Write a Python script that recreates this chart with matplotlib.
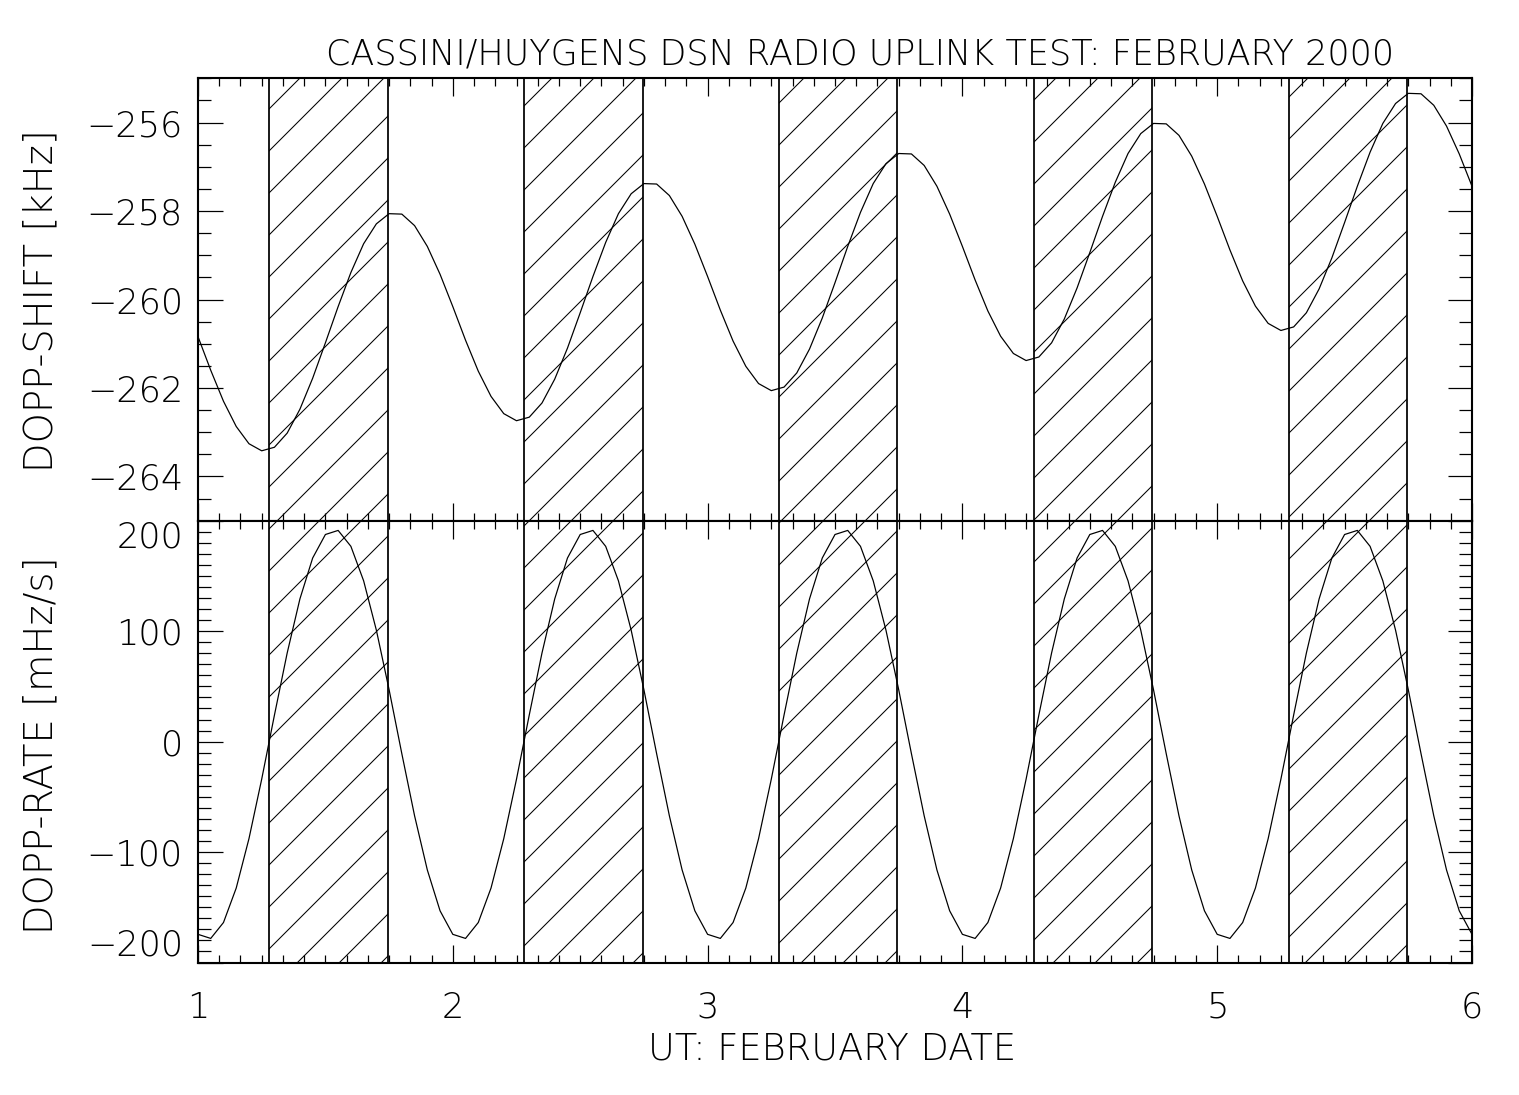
import matplotlib
matplotlib.use("Agg")
import matplotlib.pyplot as plt
import numpy as np
from matplotlib.ticker import MultipleLocator

# ---------------- data ----------------
t_first, t_last, n_samples = 1.0, 6.0, 101
ut_days = np.linspace(t_first, t_last, n_samples)

dopp_shift_khz = [
    -260.84, -261.60, -262.30, -262.87, -263.26, -263.42, -263.34, -263.02, -262.48, -261.78,
    -260.98, -260.16, -259.39, -258.74, -258.29, -258.06, -258.07, -258.33, -258.80, -259.43,
    -260.16, -260.92, -261.62, -262.19, -262.58, -262.74, -262.66, -262.34, -261.80, -261.10,
    -260.30, -259.48, -258.71, -258.06, -257.61, -257.38, -257.39, -257.65, -258.12, -258.75,
    -259.48, -260.24, -260.94, -261.51, -261.90, -262.06, -261.98, -261.66, -261.12, -260.42,
    -259.62, -258.80, -258.03, -257.38, -256.93, -256.70, -256.71, -256.97, -257.44, -258.07,
    -258.80, -259.56, -260.26, -260.83, -261.22, -261.38, -261.30, -260.98, -260.44, -259.74,
    -258.94, -258.12, -257.35, -256.70, -256.25, -256.02, -256.03, -256.29, -256.76, -257.39,
    -258.12, -258.88, -259.58, -260.15, -260.54, -260.70, -260.62, -260.30, -259.76, -259.06,
    -258.26, -257.44, -256.67, -256.02, -255.57, -255.34, -255.35, -255.61, -256.08, -256.71,
    -257.44,
]

dopp_rate_mhz_s = [
    -174.5, -178.2, -163.8, -132.6, -87.9, -34.0, 24.0, 80.2, 129.2, 166.2,
    187.5, 191.2, 176.8, 145.6, 100.9, 47.0, -11.0, -67.2, -116.2, -153.2,
    -174.5, -178.2, -163.8, -132.6, -87.9, -34.0, 24.0, 80.2, 129.2, 166.2,
    187.5, 191.2, 176.8, 145.6, 100.9, 47.0, -11.0, -67.2, -116.2, -153.2,
    -174.5, -178.2, -163.8, -132.6, -87.9, -34.0, 24.0, 80.2, 129.2, 166.2,
    187.5, 191.2, 176.8, 145.6, 100.9, 47.0, -11.0, -67.2, -116.2, -153.2,
    -174.5, -178.2, -163.8, -132.6, -87.9, -34.0, 24.0, 80.2, 129.2, 166.2,
    187.5, 191.2, 176.8, 145.6, 100.9, 47.0, -11.0, -67.2, -116.2, -153.2,
    -174.5, -178.2, -163.8, -132.6, -87.9, -34.0, 24.0, 80.2, 129.2, 166.2,
    187.5, 191.2, 176.8, 145.6, 100.9, 47.0, -11.0, -67.2, -116.2, -153.2,
    -174.5,
]

view_start = [1.28, 2.28, 3.28, 4.28, 5.28]
view_end = [1.745, 2.745, 3.745, 4.745, 5.745]

x_ticks = [1, 2, 3, 4, 5, 6]
x_tick_labels = ["1", "2", "3", "4", "5", "6"]
shift_ticks = [-264, -262, -260, -258, -256]
rate_ticks = [-200, -100, 0, 100, 200]

title_text = "CASSINI/HUYGENS DSN RADIO UPLINK TEST: FEBRUARY 2000"
shift_label = "DOPP-SHIFT [kHz]"
rate_label = "DOPP-RATE [mHz/s]"
x_label = "UT: FEBRUARY DATE"

# ---------------- style ----------------
plt.rcParams["font.family"] = ["DejaVu Sans"]
plt.rcParams["font.weight"] = "light"
plt.rcParams["hatch.linewidth"] = 0.3
plt.rcParams["axes.linewidth"] = 0.6

DPI = 252
W_PX, H_PX = 1519, 1095
fig = plt.figure(figsize=(W_PX / DPI, H_PX / DPI), dpi=DPI)
fig.patch.set_facecolor("white")

left = 198 / W_PX
width = (1472 - 198) / W_PX
top1, bot1 = 78.3, 520.7
top2, bot2 = 520.7, 962.5
ax1 = fig.add_axes([left, 1 - bot1 / H_PX, width, (bot1 - top1) / H_PX])
ax2 = fig.add_axes([left, 1 - bot2 / H_PX, width, (bot2 - top2) / H_PX])

FS = 10
for ax in (ax1, ax2):
    for s, e in zip(view_start, view_end):
        ax.axvspan(s, e, facecolor="none", edgecolor="black", hatch="//", linewidth=0.5)
    ax.set_xlim(t_first, t_last)
    ax.set_xticks(x_ticks)
    ax.xaxis.set_minor_locator(MultipleLocator(1 / 12))
    ax.tick_params(which="both", direction="in", top=True, right=True, width=0.35,
                   colors="black", labelsize=FS)
    ax.tick_params(axis="y", which="major", length=7.0, pad=4.3)
    ax.tick_params(axis="y", which="minor", length=3.6)
    ax.tick_params(axis="x", which="major", length=5.2, pad=8.0)
    ax.tick_params(axis="x", which="minor", length=2.4)

ax1.plot(ut_days, dopp_shift_khz, color="black", linewidth=0.35)
ax2.plot(ut_days, dopp_rate_mhz_s, color="black", linewidth=0.35)

ax1.set_ylim(-265, -255)
ax1.set_yticks(shift_ticks)
ax1.yaxis.set_minor_locator(MultipleLocator(0.5))
ax1.tick_params(axis="x", labelbottom=False)

ax2.set_ylim(-200, 200)
ax2.set_yticks(rate_ticks)
ax2.yaxis.set_minor_locator(MultipleLocator(10))
ax2.set_xticklabels(x_tick_labels)

# IDL-style: end labels pushed inside the panel
rl = ax2.get_yticklabels()
rl[0].set_va("bottom")
rl[-1].set_va("top")

fig.text(860 / W_PX, 1 - 65 / H_PX, title_text, ha="center", va="baseline", fontsize=FS)
fig.text(41 / W_PX, 1 - 301 / H_PX, shift_label, rotation=90, ha="center", va="center",
         fontsize=11)
fig.text(41 / W_PX, 1 - 745 / H_PX, rate_label, rotation=90, ha="center", va="center",
         fontsize=11)
fig.text(832 / W_PX, 1 - 1049 / H_PX, x_label, ha="center", va="center", fontsize=10.5)

fig.savefig("out.png", dpi=DPI, facecolor="white")
